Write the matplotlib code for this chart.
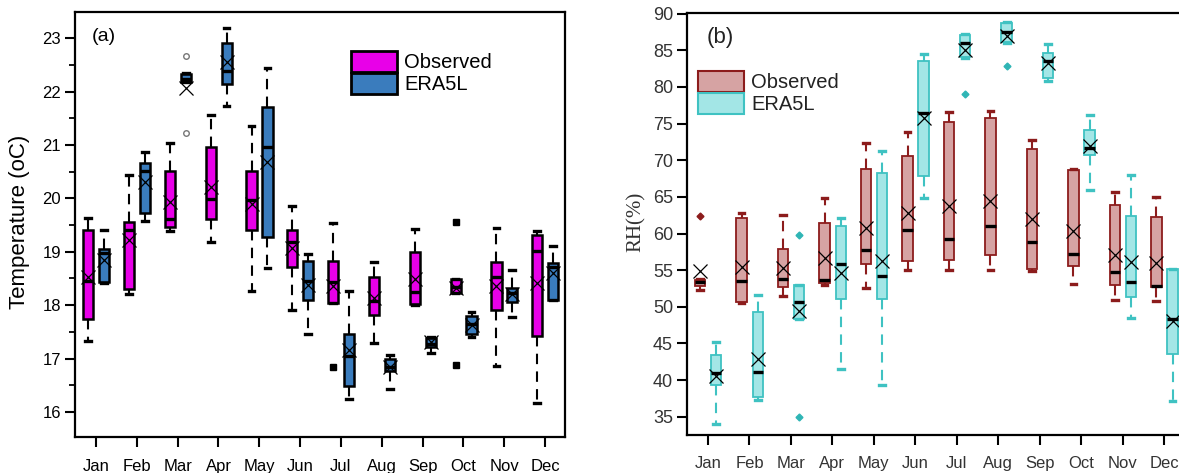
import matplotlib
matplotlib.use('Agg')
from matplotlib import pyplot as plt
from matplotlib.patches import Patch
from matplotlib.ticker import MultipleLocator

plt.rcParams['font.family'] = ['Liberation Sans', 'DejaVu Sans']

months = ['Jan', 'Feb', 'Mar', 'Apr', 'May', 'Jun',
          'Jul', 'Aug', 'Sep', 'Oct', 'Nov', 'Dec']

# (a) temperature, observed
t_obs_lo = [17.33, 18.21, 19.38, 19.19, 18.27, 17.90, 18.04, 17.29, 18.00, 18.22, 16.86, 16.17]
t_obs_q1 = [17.74, 18.30, 19.46, 19.62, 19.41, 18.72, 18.04, 17.82, 18.02, 18.22, 17.90, 17.43]
t_obs_med = [18.46, 19.41, 19.62, 19.99, 19.97, 19.19, 18.44, 18.08, 18.24, 18.34, 18.52, 19.02]
t_obs_q3 = [19.41, 19.56, 20.52, 20.97, 20.51, 19.41, 18.82, 18.53, 18.99, 18.49, 18.80, 19.32]
t_obs_hi = [19.63, 20.44, 21.03, 21.56, 21.36, 19.85, 19.53, 18.80, 19.42, 18.49, 19.45, 19.38]
t_obs_mean = [18.53, 19.22, 19.94, 20.22, 19.90, 19.07, 18.35, 18.13, 18.49, 18.33, 18.35, 18.41]
t_obs_out = [[], [], [], [], [], [], [16.85], [], [], [19.56, 16.88], [], []]

# (a) temperature, ERA5L
t_era_lo = [18.42, 19.58, 22.17, 21.73, 18.69, 17.46, 16.24, 16.43, 17.11, 17.41, 17.77, 18.10]
t_era_q1 = [18.43, 19.72, 22.17, 22.14, 19.27, 18.09, 16.49, 16.76, 17.22, 17.46, 18.06, 18.10]
t_era_med = [18.97, 20.52, 22.23, 22.39, 20.97, 18.46, 17.05, 16.85, 17.28, 17.64, 18.22, 18.72]
t_era_q3 = [19.05, 20.66, 22.33, 22.91, 21.71, 18.82, 17.46, 16.99, 17.38, 17.80, 18.32, 18.79]
t_era_hi = [19.41, 20.86, 22.35, 23.19, 22.45, 18.96, 18.27, 17.07, 17.40, 17.88, 18.66, 19.10]
t_era_mean = [18.85, 20.31, 22.06, 22.56, 20.68, 18.38, 17.16, 16.85, 17.30, 17.63, 18.20, 18.60]
t_era_out = [[], [], [22.66, 21.22], [], [], [], [], [], [], [], [], []]

# (b) relative humidity, observed
rh_obs_lo = [52.33, 50.5, 51.42, 53.0, 52.56, 55.06, 55.06, 55.06, 54.9, 53.15, 50.87, 50.83]
rh_obs_q1 = [52.8, 50.6, 52.7, 53.25, 55.88, 56.2, 56.43, 57.1, 55.15, 55.6, 53.0, 52.7]
rh_obs_med = [53.33, 53.47, 53.79, 53.6, 57.79, 60.52, 59.26, 61.07, 58.84, 57.24, 54.69, 52.88]
rh_obs_q3 = [53.7, 62.1, 57.93, 61.43, 68.8, 70.53, 75.16, 75.77, 71.53, 68.71, 63.84, 62.25]
rh_obs_hi = [53.8, 62.8, 62.57, 64.85, 72.35, 73.85, 76.58, 76.76, 72.7, 68.8, 65.67, 64.98]
rh_obs_mean = [54.83, 55.43, 55.29, 56.66, 60.75, 62.8, 63.7, 64.38, 61.98, 60.3, 57.1, 55.98]
rh_obs_out = [[62.33], [], [], [], [], [], [], [], [], [], [], []]

# (b) relative humidity, ERA5L
rh_era_lo = [34.04, 37.22, 48.37, 41.5, 39.37, 64.85, 84.0, 86.0, 80.86, 65.98, 48.47, 37.1]
rh_era_q1 = [39.27, 37.69, 48.37, 51.1, 51.1, 67.8, 84.09, 86.08, 81.22, 70.76, 51.33, 43.56]
rh_era_med = [40.96, 41.05, 50.65, 55.88, 54.15, 76.45, 86.0, 87.5, 83.49, 71.67, 53.38, 48.33]
rh_era_q3 = [43.37, 49.23, 52.92, 60.97, 68.26, 83.59, 87.13, 88.8, 84.64, 74.17, 62.43, 55.15]
rh_era_hi = [45.2, 51.55, 52.92, 62.1, 71.2, 84.5, 87.27, 88.9, 85.86, 76.2, 67.93, 55.2]
rh_era_mean = [40.5, 42.87, 49.37, 54.6, 56.2, 75.77, 85.09, 86.9, 83.27, 71.9, 56.1, 48.0]
rh_era_out = [[], [], [59.84, 34.96], [], [], [], [79.08], [82.8], [], [], [], []]


def make_stats(lo, q1, med, q3, hi, mean, out):
    stats = []
    for i in range(len(lo)):
        stats.append(dict(whislo=lo[i], q1=q1[i], med=med[i], q3=q3[i],
                          whishi=hi[i], mean=mean[i], fliers=out[i]))
    return stats


def draw_boxes(ax, stats, pos, face, edge, lw, wcol, flier):
    ax.bxp(stats, positions=pos, widths=0.25, capwidths=0.14,
           patch_artist=True, showmeans=True, manage_ticks=False,
           boxprops=dict(facecolor=face, edgecolor=edge, linewidth=lw),
           whiskerprops=dict(color=wcol, linewidth=1.5, linestyle=(0, (5, 3.5))),
           capprops=dict(color=wcol, linewidth=2.4),
           medianprops=dict(color='black', linewidth=2.4),
           meanprops=dict(marker='x', markeredgecolor='black', markersize=10,
                          markeredgewidth=0.9),
           flierprops=flier)


x = list(range(1, 13))
x_obs = [i - 0.19 for i in x]
x_era = [i + 0.2 for i in x]

fig = plt.figure(figsize=(11.79, 4.73), dpi=100)

# ---- (a) temperature
ax1 = fig.add_axes([75 / 1179, 36 / 473, 490 / 1179, 425 / 473])
draw_boxes(ax1, make_stats(t_obs_lo, t_obs_q1, t_obs_med, t_obs_q3, t_obs_hi, t_obs_mean, t_obs_out),
           x_obs, '#e800e8', 'black', 1.8, 'black',
           dict(marker='s', markerfacecolor='black', markeredgecolor='black', markersize=4))
draw_boxes(ax1, make_stats(t_era_lo, t_era_q1, t_era_med, t_era_q3, t_era_hi, t_era_mean, t_era_out),
           x_era, '#3a7cbd', 'black', 1.8, 'black',
           dict(marker='o', markerfacecolor='white', markeredgecolor='#777777', markersize=4))
ax1.set_xlim(0.485, 12.49)
ax1.set_ylim(15.53, 23.49)
ax1.set_xticks(x)
ax1.set_xticklabels(months)
ax1.set_yticks([16, 17, 18, 19, 20, 21, 22, 23])
ax1.yaxis.set_minor_locator(MultipleLocator(0.5))
ax1.tick_params(axis='y', which='major', length=7, width=1.5, labelsize=12, pad=3)
ax1.tick_params(axis='y', which='minor', length=4, width=1.3)
ax1.tick_params(axis='x', length=7, width=1.5, labelsize=12, pad=9)
for s in ax1.spines.values():
    s.set_linewidth(1.6)
ax1.text(0.035, 0.9435, '(a)', transform=ax1.transAxes, fontsize=14,
         ha='left', va='center')
ax1.legend(handles=[Patch(facecolor='#e800e8', edgecolor='black', linewidth=2, label='Observed'),
                    Patch(facecolor='#3a7cbd', edgecolor='black', linewidth=2, label='ERA5L')],
           loc='upper left', bbox_to_anchor=(0.563, 0.908), frameon=False, fontsize=14.5,
           handlelength=2.3, handleheight=1.2, handletextpad=0.35, labelspacing=0.05,
           borderpad=0, borderaxespad=0)
fig.text(20 / 1179, 1 - 222 / 473, 'Temperature (oC)', rotation=90, fontsize=16,
         ha='center', va='center')

# ---- (b) relative humidity
ax2 = fig.add_axes([687 / 1179, 38 / 473, 498 / 1179, 422 / 473])
draw_boxes(ax2, make_stats(rh_obs_lo, rh_obs_q1, rh_obs_med, rh_obs_q3, rh_obs_hi, rh_obs_mean, rh_obs_out),
           x_obs, '#d6a3a3', '#8c1c1c', 1.3, '#8c1c1c',
           dict(marker='D', markerfacecolor='#8c1c1c', markeredgecolor='#8c1c1c', markersize=3.5))
draw_boxes(ax2, make_stats(rh_era_lo, rh_era_q1, rh_era_med, rh_era_q3, rh_era_hi, rh_era_mean, rh_era_out),
           x_era, '#a3e6e6', '#3fc2c2', 1.3, '#3fc2c2',
           dict(marker='D', markerfacecolor='#2fb5b5', markeredgecolor='#2fb5b5', markersize=3.5))
ax2.set_xlim(0.494, 12.5)
ax2.set_ylim(32.5, 90.1)
ax2.set_xticks(x)
ax2.set_xticklabels(months)
ax2.set_yticks(list(range(35, 91, 5)))
ax2.tick_params(axis='y', length=7, width=1.5, labelsize=13, pad=3, labelcolor='#333333')
ax2.tick_params(axis='x', length=7, width=1.5, labelsize=12, pad=8, labelcolor='#333333')
for s in ax2.spines.values():
    s.set_linewidth(1.6)
ax2.text(0.040, 0.943, '(b)', transform=ax2.transAxes, fontsize=16,
         ha='left', va='center', color='#222222')
ax2.legend(handles=[Patch(facecolor='#d6a3a3', edgecolor='#8c1c1c', linewidth=1.5, label='Observed'),
                    Patch(facecolor='#a3e6e6', edgecolor='#3fc2c2', linewidth=1.5, label='ERA5L')],
           loc='upper left', bbox_to_anchor=(0.022, 0.8626), frameon=False, fontsize=14.5,
           handlelength=2.3, handleheight=1.2, handletextpad=0.35, labelspacing=0.05,
           borderpad=0, borderaxespad=0, labelcolor='#222222')
fig.text(636 / 1179, 1 - 222 / 473, 'RH(%)', rotation=90, fontsize=15,
         family=['Liberation Serif', 'DejaVu Serif'], ha='center', va='center', color='#333333')

fig.savefig('out.png', dpi=100)
